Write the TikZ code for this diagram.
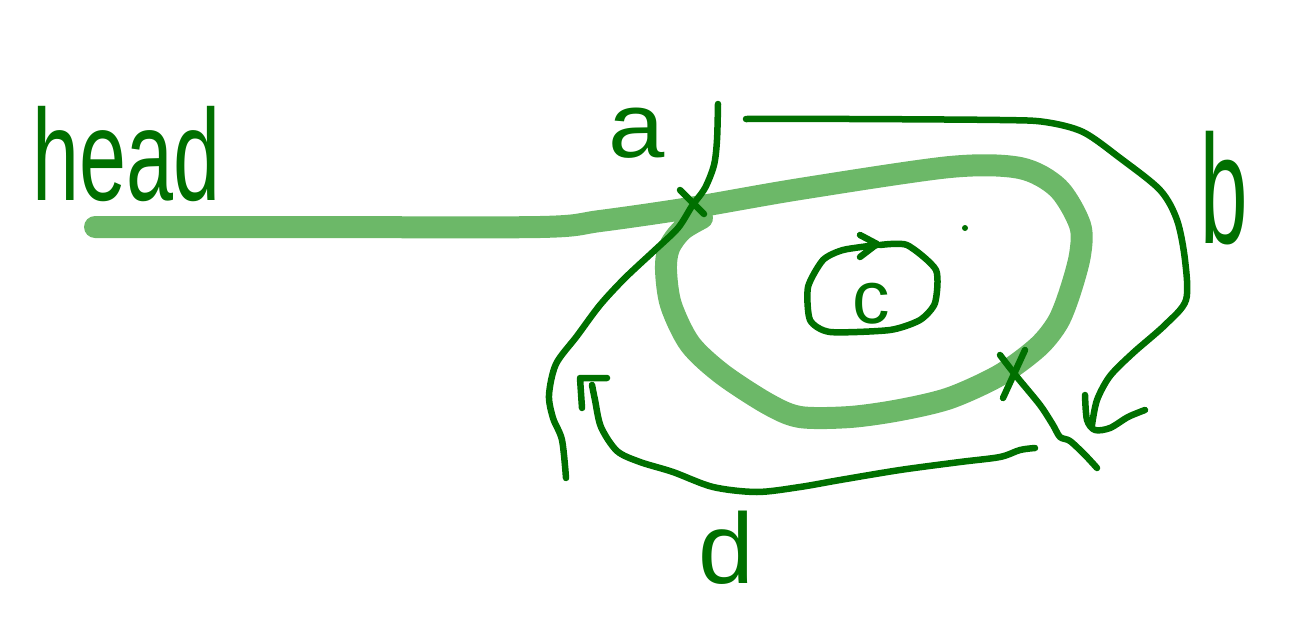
\documentclass[tikz,border=0pt]{standalone}
\usepackage{fontspec}
\setmainfont{Liberation Sans}
\definecolor{dkgreen}{RGB}{0,112,0}
\definecolor{ltgreen}{RGB}{108,184,104}
\tikzset{
  thick band/.style={draw=ltgreen, line width=22pt, line cap=round, line join=round},
  ink/.style={draw=dkgreen, line width=6.5pt, line cap=round, line join=round},
  lbl/.style={text=dkgreen, inner sep=0pt, anchor=base west},
}
\begin{document}
\begin{tikzpicture}[x=1pt,y=-1pt]
\useasboundingbox (0,0) rectangle (1294,632);
% thick band: tail and loop
\draw[thick band] plot[smooth, tension=0.5] coordinates {
 (95,227) (300,227) (540,227) (600,221) (690,208) (800,189) (950,167) (1020,168)
 (1058,188) (1080,225) (1080,255) (1070,292) (1058,322) (1038,347) (1000,375)
 (950,398) (900,410) (850,417) (800,417) (768,404) (722,374) (690,344) (671,305)
 (666,270) (669,248) (682,230) (702,218)};
% strand through first crossing
\draw[ink] plot[smooth, tension=0.5] coordinates {
 (718,104) (717,140) (714,165) (705,188) (692,206) (678,228) (655,250) (625,278)
 (600,305) (577,336) (556,364) (549,395) (553,418) (562,440) (566,478)};
\draw[ink] (680,190) -- (704,214);
% strand b
\draw[ink] plot[smooth, tension=0.5] coordinates {
 (746,119) (850,119) (1000,120) (1045,122) (1083,132) (1120,158) (1160,190)
 (1177,220) (1185,260) (1186,300) (1165,325) (1133,353) (1110,376) (1097,400) (1092,425)};
\draw[ink] plot[smooth, tension=0.5] coordinates {
 (1085,395) (1087,420) (1095,430) (1110,428) (1128,417) (1145,410)};
% second crossing
\draw[ink] (1025,350) -- (1003,398);
\draw[ink] plot[smooth, tension=0.5] coordinates {
 (1000,355) (1017,377) (1040,405) (1053,425) (1060,437) (1070,441) (1085,455) (1097,468)};
% strand d
\draw[ink] plot[smooth, tension=0.5] coordinates {
 (1035,448) (1020,450) (1000,457) (960,462) (900,470) (840,480) (800,487) (757,492)
 (713,487) (673,472) (640,462) (617,451) (601,427) (595,400) (592,385)};
\draw[ink] (582,408) -- (580,378) -- (607,378);
% small loop around c
\draw[ink] plot[smooth, tension=0.4] coordinates {
 (880,245) (907,245) (936,270) (935,303) (920,320) (890,330) (830,332) (810,320)
 (808,287) (823,260) (843,250) (877,245)};
\draw[ink] (860,235) -- (877,244) -- (860,257);
\fill[dkgreen] (965,228) circle (3pt);
% labels
\node[lbl, xscale=0.65] (head) at (32,200) {\fontsize{130}{130}\selectfont head};
\node[lbl, xscale=1.1] (la) at (608,157) {\fontsize{92}{92}\selectfont a};
\node[lbl, xscale=0.55] (lb) at (1200,243) {\fontsize{155}{155}\selectfont b};
\node[lbl] (lc) at (852,323) {\fontsize{75}{75}\selectfont c};
\node[lbl] (ld) at (698,583) {\fontsize{100}{100}\selectfont d};
\end{tikzpicture}
\end{document}
